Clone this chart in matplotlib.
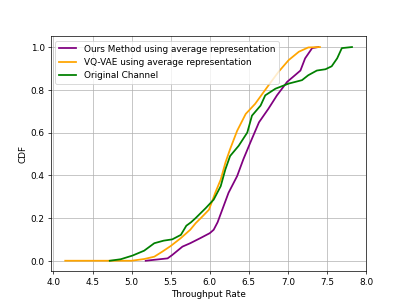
import matplotlib.pyplot as plt
import numpy as np

oursX = [5.18, 5.46, 5.52, 5.65, 5.75, 5.88, 6.0, 6.05, 6.1, 6.16, 6.24, 6.35, 6.43, 6.52,
         6.63, 6.75, 6.86, 6.99, 7.09, 7.16, 7.22, 7.31, 7.39]
oursY = [0, 0.011, 0.027, 0.066, 0.082, 0.106, 0.129, 0.145, 0.18, 0.239, 0.318, 0.396, 0.475, 0.554,
         0.648, 0.711, 0.774, 0.837, 0.868, 0.89, 0.947, 0.995, 1.0]

vqX = [4.15, 5.0, 5.16, 5.29, 5.39, 5.5, 5.63, 5.75, 5.82, 5.9, 5.99, 6.07, 6.14, 6.2, 6.26,
       6.35, 6.46, 6.58, 6.75, 6.88, 7.01, 7.14, 7.26, 7.41]
vqY = [0, 0, 0.008, 0.019, 0.042, 0.069, 0.106, 0.145, 0.176, 0.205, 0.239, 0.318, 0.38, 0.459, 0.522,
       0.608, 0.687, 0.734, 0.82, 0.884, 0.939, 0.978, 0.998, 1.0]

origX = [4.72, 4.86, 5.01, 5.16, 5.29, 5.41, 5.52, 5.63, 5.7, 5.76, 5.82, 5.95, 6.05, 6.14,
         6.2, 6.26, 6.37, 6.48, 6.54, 6.65, 6.71, 6.84, 7.01, 7.18, 7.26, 7.37, 7.48, 7.56,
         7.63, 7.69, 7.82]
origY = [0, 0.007, 0.024, 0.047, 0.082, 0.094, 0.1, 0.121, 0.164, 0.18, 0.2, 0.247, 0.286, 0.349,
         0.428, 0.49, 0.538, 0.6, 0.679, 0.726, 0.774, 0.805, 0.829, 0.845, 0.868, 0.89, 0.896, 0.91,
         0.947, 0.995, 1.0]

fig, ax = plt.subplots(figsize=(6.4, 4.8), dpi=63.6)

ax.plot(np.array(oursX), np.array(oursY), color='purple', linewidth=2,
        label='Ours Method using average representation')
ax.plot(np.array(vqX), np.array(vqY), color='orange', linewidth=2,
        label='VQ-VAE using average representation')
ax.plot(np.array(origX), np.array(origY), color='green', linewidth=2,
        label='Original Channel')

ax.set_xlabel('Throughput Rate')
ax.set_ylabel('CDF')
ax.grid()
ax.legend(loc='upper left')

plt.savefig('out.png')
